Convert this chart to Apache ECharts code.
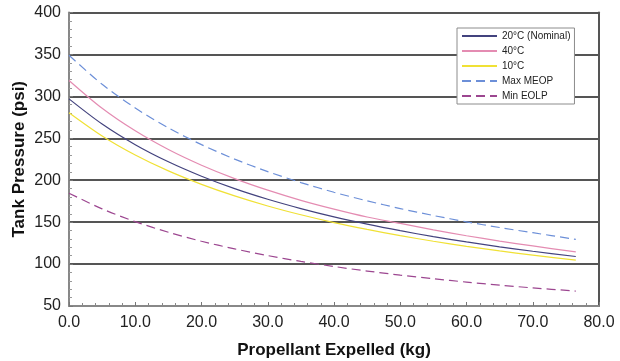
<!DOCTYPE html>
<html>
<head>
<meta charset="utf-8">
<script src="https://cdn.jsdelivr.net/npm/echarts@6/dist/echarts.min.js"></script>
<style>
  html, body { margin: 0; padding: 0; background: #fff; }
  #chart { width: 620px; height: 361px; }
</style>
</head>
<body>
<div id="chart"></div>
<script>
// propellant expelled (kg)
const expelled = [0, 5, 10, 15, 20, 25, 30, 35, 40, 45, 50, 55, 60, 65, 70, 76.5];

// tank pressure (psi)
const nominal20 = [297, 267, 242.4, 222, 204.8, 190, 177.3, 166.2, 156.3, 147.6, 139.8, 132.7, 126.4, 120.6, 115.3, 109];
const hot40 = [319, 285.8, 258.9, 236.6, 217.9, 201.9, 188.1, 176, 165.5, 156.1, 148.5, 140.8, 133.8, 127.4, 121.6, 114.5];
const cold10 = [280.5, 252.8, 230.1, 211.1, 195.1, 181.3, 169.3, 158.8, 149.5, 141.3, 133.9, 127.2, 121.2, 115.7, 110.7, 104.7];
const maxMeop = [349, 314.4, 286.1, 262.4, 242.4, 225.2, 210.2, 197.2, 185.6, 175.4, 166.2, 157.9, 150.4, 143.6, 137.4, 129.5];
const minEolp = [184.5, 165.8, 150.6, 137.9, 127.2, 118.1, 110.1, 103.2, 97.1, 91.7, 86.8, 82.5, 78.5, 74.9, 71.6, 67.8];

const seriesNames = ["20°C (Nominal)", "40°C", "10°C", "Max MEOP", "Min EOLP"];

const FONT = "Liberation Sans";

function pairs(ys) {
  return expelled.map(function(x, i) { return [x, ys[i]]; });
}

function makeLine(name, ys, color, dash) {
  return {
    type: "line",
    name: name,
    data: pairs(ys),
    symbol: "none",
    smooth: 0.3,
    lineStyle: { color: color, width: 1.2, type: dash ? [9, 5] : "solid" },
    itemStyle: { color: color },
    animation: false
  };
}

const chart = echarts.init(document.getElementById("chart"), null, { renderer: "canvas" });
chart.setOption({
  animation: false,
  textStyle: { fontFamily: FONT },
  grid: { left: 69, right: 21, top: 12.5, bottom: 55, containLabel: false, outerBoundsMode: "none" },
  legend: {
    orient: "vertical",
    left: 457,
    top: 28,
    padding: [3, 4, 3, 4],
    itemWidth: 35,
    itemHeight: 10,
    itemGap: 5,
    itemStyle: { opacity: 0 },
    backgroundColor: "#fff",
    borderColor: "#8c8c8c",
    borderWidth: 1,
    borderRadius: 0,
    textStyle: { fontSize: 10, color: "#222", fontFamily: FONT },
    data: seriesNames
  },
  xAxis: {
    type: "value",
    min: 0,
    max: 80,
    interval: 10,
    name: "Propellant Expelled (kg)",
    nameLocation: "middle",
    nameGap: 36,
    nameMoveOverlap: false,
    nameTextStyle: { fontSize: 17, fontWeight: "bold", color: "#111", fontFamily: FONT },
    axisLine: { show: true, lineStyle: { color: "#888", width: 2 } },
    axisTick: { show: true, inside: true, length: 4, lineStyle: { color: "#777" } },
    minorTick: { show: true, splitNumber: 5, length: 3, lineStyle: { color: "#888" } },
    axisLabel: {
      fontSize: 16, color: "#222", margin: 9,
      formatter: function(v) { return v.toFixed(1); }
    },
    splitLine: { show: false }
  },
  yAxis: [
    {
      type: "value",
      min: 50,
      max: 400,
      interval: 50,
      name: "Tank Pressure (psi)",
      nameLocation: "middle",
      nameGap: 41,
      nameMoveOverlap: false,
      nameTextStyle: { fontSize: 17, fontWeight: "bold", color: "#111", fontFamily: FONT },
      axisLine: { show: true, lineStyle: { color: "#888", width: 2 } },
      axisTick: { show: true, inside: true, length: 4, lineStyle: { color: "#777" } },
      minorTick: { show: true, splitNumber: 5, length: 3, lineStyle: { color: "#999" } },
      axisLabel: { fontSize: 16, color: "#222", margin: 8 },
      splitLine: { show: true, lineStyle: { color: "#555", width: 1.8 } }
    },
    {
      type: "value",
      position: "right",
      min: 50,
      max: 400,
      interval: 50,
      axisLine: { show: true, lineStyle: { color: "#555", width: 2 } },
      axisTick: { show: false },
      axisLabel: { show: false },
      splitLine: { show: false }
    }
  ],
  series: [
    makeLine(seriesNames[0], nominal20, "#43437e", false),
    makeLine(seriesNames[1], hot40, "#e48cb2", false),
    makeLine(seriesNames[2], cold10, "#f0e135", false),
    makeLine(seriesNames[3], maxMeop, "#6c8fd8", true),
    makeLine(seriesNames[4], minEolp, "#9c4690", true)
  ]
});
</script>
</body>
</html>
